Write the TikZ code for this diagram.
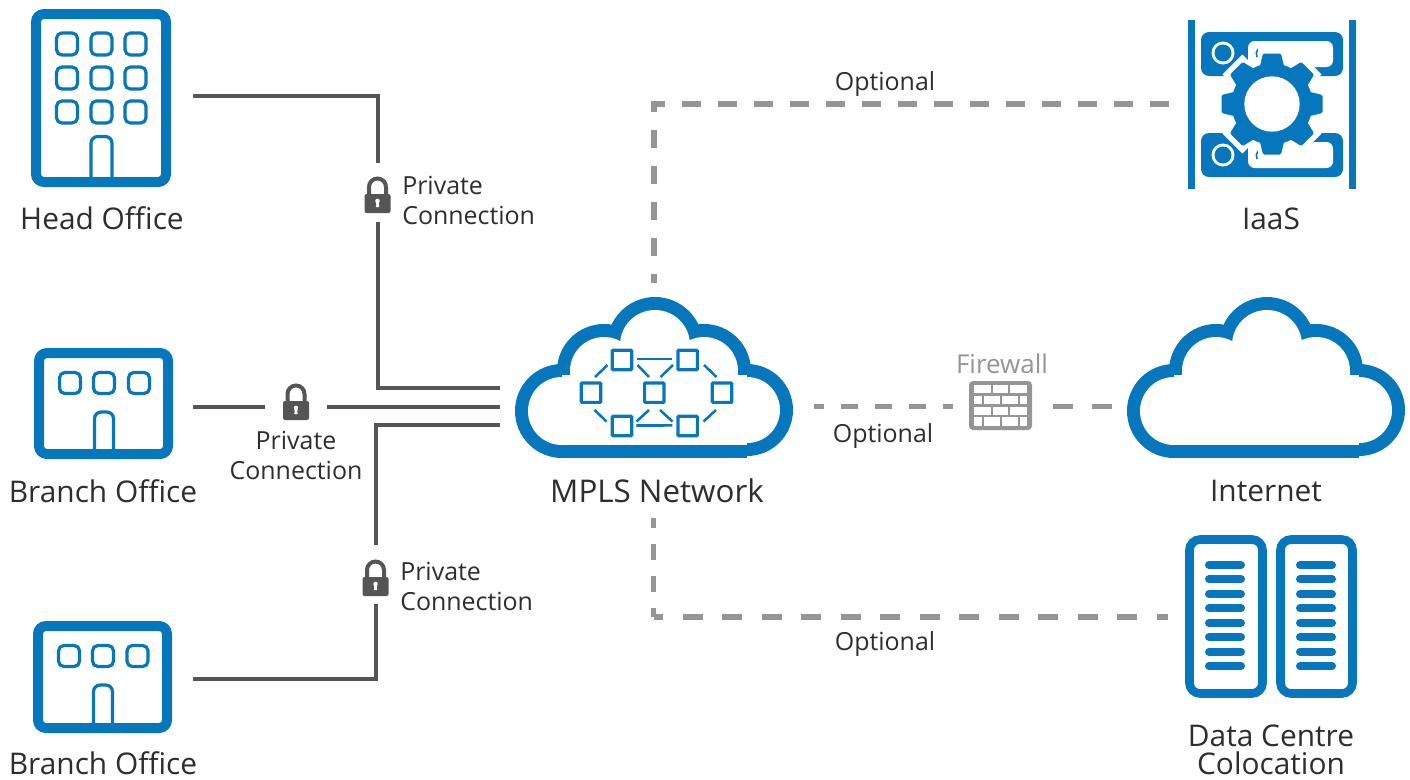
\documentclass[tikz,border=0pt]{standalone}
\usepackage{fontspec}
\setmainfont{Open Sans}
\definecolor{brandblue}{HTML}{0777BD}
\definecolor{wire}{HTML}{555555}
\definecolor{optgray}{HTML}{959595}
\definecolor{txt}{HTML}{2E2E2E}
\tikzset{
  lab/.style={text=txt,font=\fontsize{22.4}{22.4}\selectfont,inner sep=0pt,anchor=center},
  smalllab/.style={text=txt,font=\fontsize{18.7}{18.7}\selectfont,inner sep=0pt},
  wireline/.style={draw=wire,line width=3.7pt,line join=miter},
  optline/.style={draw=optgray,line width=4.1pt},
  bldg/.style={draw=brandblue,line width=7.5pt,rounded corners=6pt,fill=white},
  win/.style={draw=brandblue,line width=2.4pt,rounded corners=4pt},
  netbox/.style={draw=brandblue,line width=2.4pt,rounded corners=.6pt},
  netline/.style={draw=brandblue,line width=1.9pt},
  srv/.style={draw=brandblue,line width=6.5pt,rounded corners=8pt},
  srvbar/.style={draw=brandblue,line width=6pt,line cap=round},
  pics/cloud/.style={code={
    \fill[brandblue] (-92,66) circle (47);
    \fill[brandblue] (-50,26) circle (47);
    \fill[brandblue] (1,0) circle (48);
    \fill[brandblue] (50,26) circle (47);
    \fill[brandblue] (93,65) circle (46);
    \fill[brandblue] (-92,40) rectangle (93,113);
    \fill[white] (-92,66) circle (34);
    \fill[white] (-50,26) circle (34);
    \fill[white] (1,0) circle (35);
    \fill[white] (50,26) circle (34);
    \fill[white] (93,65) circle (33);
    \fill[white] (-92,30) rectangle (93,100);
  }},
  pics/lock/.style={code={
    \draw[wire,line width=3pt] (-8.5,0) -- (-8.5,-8) arc (180:360:8.5) -- (8.5,0);
    \fill[wire,rounded corners=1.5pt] (-13,-1) rectangle (13,18);
    \fill[white] (0,6) circle (2.3);
    \fill[white] (-1.2,6) -- (1.2,6) -- (1.6,12) -- (-1.6,12) -- cycle;
  }},
}
\begin{document}
\begin{tikzpicture}[x=.75pt,y=-.75pt]
\useasboundingbox (0,0) rectangle (1410,779);
\fill[white] (0,0) rectangle (1410,779);

% Head office
\draw[bldg] (36,14) rectangle (166,182);
\foreach \c in {56.5,91,125}{\foreach \r in {33,67,101}{\draw[win] (\c,\r) rectangle +(21,22);}}
\draw[brandblue,line width=2.4pt,rounded corners=5pt] (91,178) -- (91,136.5) -- (112,136.5) -- (112,178);
\coordinate (hoA) at (193,96);
\node[lab] (ho) at (102,218) {Head Office};

% Branch office 1
\draw[bldg] (39,353) rectangle (168,454);
\foreach \c in {59.5,93.5,128.5}{\draw[win] (\c,372.5) rectangle +(21,21);}
\draw[brandblue,line width=2.4pt,rounded corners=5pt] (94.5,450) -- (94.5,412) -- (113.5,412) -- (113.5,450);
\coordinate (b1A) at (193,407);
\node[lab] (b1) at (103,491) {Branch Office};

% Branch office 2
\draw[bldg] (38,626) rectangle (167,728);
\foreach \c in {58.5,92.5,127}{\draw[win] (\c,645.5) rectangle +(21,21);}
\draw[brandblue,line width=2.4pt,rounded corners=5pt] (93.5,724) -- (93.5,685) -- (112.5,685) -- (112.5,724);
\coordinate (b2A) at (193,679);
\node[lab] (b2) at (103,763) {Branch Office};

% Clouds
\pic at (654,345) {cloud};
\pic at (1266,345) {cloud};
\node[lab,font=\fontsize{23.5}{23.5}\selectfont] (mpls) at (657,491) {MPLS Network};
\node[lab] (inet) at (1266,491) {Internet};

% network inside
\foreach \n/\x/\y in {a/622/360,b/687.7/360,c/591/392.7,d/654.3/392.7,e/722/392.7,f/622/426,g/687.7/426}{
  \node[netbox,minimum size=14.5pt,inner sep=0pt] (n\n) at (\x,\y) {};
}
\draw[netline] (nb.west) ++(-4,-1) -- ([xshift=3pt,yshift=.75pt]na.east);
\draw[netline] (nf.east) ++(3,-.5) -- ([xshift=-3pt,yshift=.4pt]ng.west);
\draw[netline] (637.5,365) -- (649,377);
\draw[netline] (673,365) -- (660.5,377);
\draw[netline] (607.5,365) -- (595,377);
\draw[netline] (704,365) -- (716.5,377);
\draw[netline] (594.5,410) -- (606.5,421.5);
\draw[netline] (716,410) -- (703.5,421.5);
\draw[netline] (649,410) -- (636.5,421.5);
\draw[netline] (660,410) -- (672.5,421.5);

% Connectors
\coordinate (m1) at (500,388);
\coordinate (m2) at (500,407);
\coordinate (m3) at (500,425);
\coordinate (l1) at (377.5,195);
\coordinate (l2) at (296,402);
\coordinate (l3) at (375.5,578);
\draw[wireline] (hoA) -- (378,96) -- (378,163);
\draw[wireline] (378,222) -- (378,388) -- (m1);
\draw[wireline] (b1A) -- (265,407);
\draw[wireline] (327,407) -- (m2);
\draw[wireline] (b2A) -- (376,679) -- (376,604);
\draw[wireline] (376,545) -- (376,425) -- (m3);
\pic at (l1) {lock};
\pic at (l2) {lock};
\pic at (l3) {lock};
\node[smalllab,anchor=west] (p1a) at (402,185) {Private};
\node[smalllab,anchor=west] (p1b) at (402,215) {Connection};
\node[smalllab] (p2a) at (296,440) {Private};
\node[smalllab] (p2b) at (296,470) {Connection};
\node[smalllab,anchor=west] (p3a) at (400,571) {Private};
\node[smalllab,anchor=west] (p3b) at (400,601) {Connection};

% Dashed
\coordinate (ia) at (1170,104);
\coordinate (mt) at (654,283);
\coordinate (mr) at (814,406.5);
\coordinate (fl) at (953,406.5);
\coordinate (fr) at (1053,406.5);
\coordinate (it) at (1112,406.5);
\coordinate (mb) at (653.7,518);
\coordinate (mc) at (653.7,617);
\coordinate (dc) at (1168,617);
\draw[optline,dash pattern=on 13.875pt off 13.125pt,dash phase=6.75pt] (mt) -- (654,104) -- (ia);
\draw[optline,dash pattern=on 12.75pt off 12.75pt,dash phase=5.25pt] (mr) -- (fl);
\draw[optline,dash pattern=on 15pt off 14.25pt] (fr) -- (it);
\draw[optline,dash pattern=on 12pt off 12pt,dash phase=4.5pt] (mb) -- (mc);
\draw[optline,dash pattern=on 15pt off 14.625pt,dash phase=7.875pt] (mc) -- (dc);
\node[smalllab] (o1) at (885,84) {Optional};
\node[smalllab] (o2) at (883,436) {Optional};
\node[smalllab] (o3) at (885,644) {Optional};

% Firewall
\node[smalllab,text=optgray,font=\fontsize{19.5}{19.5}\selectfont] (fwt) at (1002,364) {Firewall};
\fill[optgray,rounded corners=3pt] (969,381) rectangle (1032,430);
\fill[white] (974,385) rectangle (1027,426);
\draw[optgray,line width=2pt] (974,394.5) -- (1027,394.5) (974,405.5) -- (1027,405.5) (974,416) -- (1027,416);
\draw[optgray,line width=2pt]
  (992,385) -- (992,394.5) (1009,385) -- (1009,394.5)
  (983,394.5) -- (983,405.5) (1001,394.5) -- (1001,405.5) (1019,394.5) -- (1019,405.5)
  (992,405.5) -- (992,416) (1009,405.5) -- (1009,416)
  (983,416) -- (983,426) (1001,416) -- (1001,426) (1019,416) -- (1019,426);

% IaaS
\fill[brandblue] (1188,20) rectangle (1195,189);
\fill[brandblue] (1349,20) rectangle (1356,189);
\fill[brandblue,rounded corners=6pt] (1201,32) rectangle (1343,76);
\fill[brandblue,rounded corners=6pt] (1201,133) rectangle (1343,177);
\fill[white,rounded corners=5pt] (1248,41) rectangle (1333,67);
\fill[white,rounded corners=5pt] (1248,142) rectangle (1333,168);
\foreach \y in {53,155}{
  \fill[white] (1223,\y) circle (11.5);
  \fill[brandblue] (1223,\y) circle (8.5);
  \draw[brandblue,line width=1.2pt] (1258,\y-4) to[bend right=30] (1257,\y+4);
}
\foreach \a in {0,45,...,315}{
  \fill[white,rotate around={\a:(1272,104)}] (1258,48) rectangle (1286,80);
}
\fill[white] (1272,104) circle (46);
\foreach \a in {0,45,...,315}{
  \fill[brandblue,rotate around={\a:(1272,104)},rounded corners=1pt] (1263,53.5) -- (1281,53.5) -- (1285,70) -- (1259,70) -- cycle;
}
\fill[brandblue] (1272,104) circle (40.5);
\fill[white] (1272,104) circle (27.7);
\node[lab] (iaas) at (1271,219) {IaaS};

% Data centre
\draw[srv] (1189.5,539.5) rectangle (1262.5,693.5);
\draw[srv] (1280.5,539.5) rectangle (1352.5,693.5);
\foreach \y in {565,579.3,594,608.3,622.7,637,651.7,666}{
  \draw[srvbar] (1209,\y) -- (1241,\y);
  \draw[srvbar] (1300,\y) -- (1332,\y);
}
\node[lab] (dc1) at (1271,736) {Data Centre};
\node[lab] (dc2) at (1271,763.5) {Colocation};
\end{tikzpicture}
\end{document}
